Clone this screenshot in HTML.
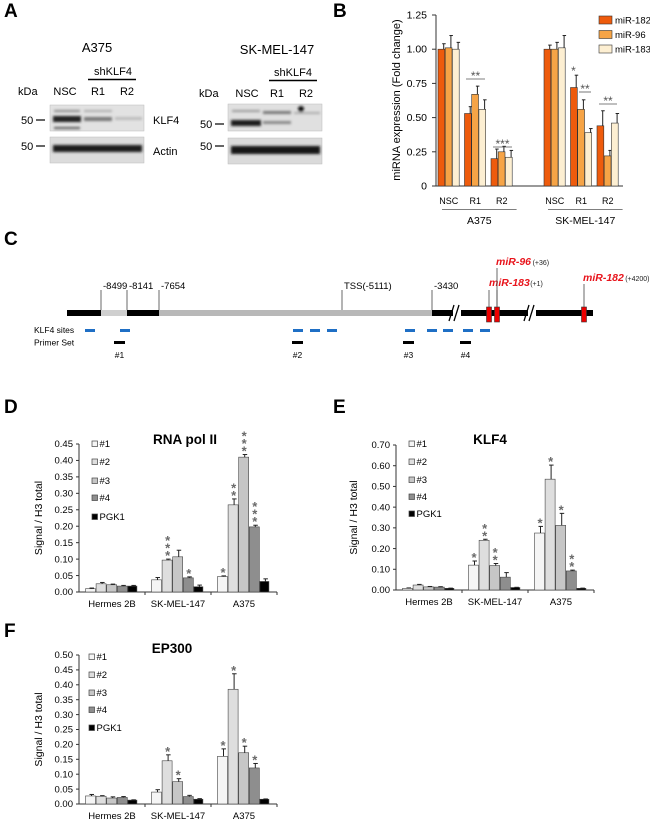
<!DOCTYPE html>
<html><head><meta charset="utf-8">
<style>
html,body{margin:0;padding:0;background:#fff;}
svg{display:block;font-family:"Liberation Sans",Arial,sans-serif;}
</style></head>
<body>
<svg id="fig" width="650" height="821" viewBox="0 0 650 821" xmlns="http://www.w3.org/2000/svg">
<defs>
<filter id="blur1" x="-20%" y="-50%" width="140%" height="200%"><feGaussianBlur stdDeviation="1.3"/></filter>
</defs>
<g font-weight="bold" font-size="19" fill="#000">
<text x="4" y="17">A</text>
<text x="333" y="17">B</text>
<text x="4" y="245">C</text>
<text x="4" y="413">D</text>
<text x="333" y="413">E</text>
<text x="4" y="637">F</text>
</g>

<g id="panelA" font-size="11" fill="#000">
<text x="97" y="52" text-anchor="middle" font-size="13">A375</text>
<text x="113" y="75" text-anchor="middle">shKLF4</text>
<line x1="88" y1="79.5" x2="136" y2="79.5" stroke="#000" stroke-width="1.5"/>
<text x="18" y="95">kDa</text>
<text x="65" y="95" text-anchor="middle">NSC</text>
<text x="98" y="95" text-anchor="middle">R1</text>
<text x="127" y="95" text-anchor="middle">R2</text>
<rect x="50" y="105" width="94" height="26" fill="#e2e2e2" stroke="#bbb" stroke-width="0.5"/>
<rect x="50" y="137" width="94" height="26" fill="#dcdcdc" stroke="#bbb" stroke-width="0.5"/>
<g filter="url(#blur1)">
<rect x="53" y="116" width="28" height="6" fill="#222"/>
<rect x="54" y="110" width="26" height="2" fill="#888"/>
<rect x="54" y="127" width="26" height="2" fill="#555"/>
<rect x="84" y="117" width="28" height="4" fill="#777"/>
<rect x="84" y="110" width="28" height="2" fill="#aaa"/>
<rect x="115" y="117" width="27" height="3" fill="#bbb"/>
<rect x="53" y="145" width="89" height="7" fill="#1a1a1a"/>
</g>
<text x="21" y="124">50</text><line x1="36" y1="120" x2="45" y2="120" stroke="#000" stroke-width="1.2"/>
<text x="21" y="150">50</text><line x1="36" y1="146" x2="45" y2="146" stroke="#000" stroke-width="1.2"/>
<text x="153" y="124">KLF4</text>
<text x="153" y="155">Actin</text>

<text x="277" y="54" text-anchor="middle" font-size="13">SK-MEL-147</text>
<text x="293" y="76" text-anchor="middle">shKLF4</text>
<line x1="269" y1="80.5" x2="317" y2="80.5" stroke="#000" stroke-width="1.5"/>
<text x="199" y="97">kDa</text>
<text x="247" y="97" text-anchor="middle">NSC</text>
<text x="277" y="97" text-anchor="middle">R1</text>
<text x="306" y="97" text-anchor="middle">R2</text>
<rect x="228" y="104" width="94" height="27" fill="#e0e0e0" stroke="#bbb" stroke-width="0.5"/>
<rect x="228" y="138" width="94" height="26" fill="#dadada" stroke="#bbb" stroke-width="0.5"/>
<g filter="url(#blur1)">
<rect x="231" y="120" width="30" height="6" fill="#1e1e1e"/>
<rect x="232" y="110" width="28" height="2" fill="#999"/>
<rect x="263" y="121" width="28" height="3" fill="#888"/>
<rect x="263" y="111" width="28" height="3" fill="#777"/>
<rect x="294" y="112" width="26" height="2" fill="#aaa"/>
<circle cx="301" cy="109" r="3" fill="#111"/>
<rect x="231" y="146" width="89" height="8" fill="#181818"/>
</g>
<text x="200" y="128">50</text><line x1="215" y1="124" x2="224" y2="124" stroke="#000" stroke-width="1.2"/>
<text x="200" y="150">50</text><line x1="215" y1="146" x2="224" y2="146" stroke="#000" stroke-width="1.2"/>
</g>

<g id="panelB"></g>
<g id="panelC"></g>
<g id="panelD"></g>
<g id="panelE"></g>
<g id="panelF"></g>
</svg>
<script>
// ---------- Panel B data ----------
var bCellLines = ["A375", "SK-MEL-147"];
var bConditions = ["NSC", "R1", "R2"];
var bSeriesNames = ["miR-182", "miR-96", "miR-183"];
var bTicks = ["0", "0.25", "0.50", "0.75", "1.00", "1.25"];
var bTickValues = [0, 0.25, 0.5, 0.75, 1.0, 1.25];
var bMiR182 = [1.00, 0.53, 0.20, 1.00, 0.72, 0.44];
var bMiR96  = [1.01, 0.67, 0.25, 1.00, 0.56, 0.22];
var bMiR183 = [1.00, 0.56, 0.21, 1.01, 0.39, 0.46];
var bErr182 = [0.04, 0.05, 0.07, 0.03, 0.09, 0.11];
var bErr96  = [0.09, 0.06, 0.04, 0.05, 0.07, 0.04];
var bErr183 = [0.05, 0.07, 0.05, 0.09, 0.03, 0.07];

// ---------- Panel D data (RNA pol II) ----------
var chipGroups = ["Hermes 2B", "SK-MEL-147", "A375"];
var chipSeries = ["#1", "#2", "#3", "#4", "PGK1"];
var dTicks = ["0.00","0.05","0.10","0.15","0.20","0.25","0.30","0.35","0.40","0.45"];
var dHermes = [0.010, 0.025, 0.022, 0.018, 0.018];
var dSkmel  = [0.037, 0.097, 0.107, 0.043, 0.016];
var dA375   = [0.047, 0.265, 0.410, 0.198, 0.032];
var dErrHermes = [0.002, 0.004, 0.002, 0.002, 0.002];
var dErrSkmel  = [0.007, 0.003, 0.020, 0.003, 0.005];
var dErrA375   = [0.002, 0.018, 0.008, 0.005, 0.008];
var dStarsHermes = [0,0,0,0,0];
var dStarsSkmel  = [0,3,0,1,0];
var dStarsA375   = [1,2,3,3,0];

// ---------- Panel E data (KLF4) ----------
var eTicks = ["0.00","0.10","0.20","0.30","0.40","0.50","0.60","0.70"];
var eHermes = [0.008, 0.024, 0.015, 0.014, 0.008];
var eSkmel  = [0.120, 0.240, 0.118, 0.062, 0.012];
var eA375   = [0.275, 0.535, 0.312, 0.092, 0.008];
var eErrHermes = [0.002, 0.003, 0.002, 0.002, 0.001];
var eErrSkmel  = [0.020, 0.005, 0.010, 0.022, 0.001];
var eErrA375   = [0.032, 0.068, 0.058, 0.004, 0.001];
var eStarsHermes = [0,0,0,0,0];
var eStarsSkmel  = [1,2,2,0,0];
var eStarsA375   = [1,1,1,2,0];

// ---------- Panel F data (EP300) ----------
var fTicks = ["0.00","0.05","0.10","0.15","0.20","0.25","0.30","0.35","0.40","0.45","0.50"];
var fHermes = [0.027, 0.026, 0.020, 0.022, 0.013];
var fSkmel  = [0.040, 0.145, 0.075, 0.025, 0.016];
var fA375   = [0.160, 0.385, 0.172, 0.121, 0.016];
var fErrHermes = [0.005, 0.002, 0.004, 0.003, 0.001];
var fErrSkmel  = [0.008, 0.020, 0.010, 0.004, 0.002];
var fErrA375   = [0.025, 0.052, 0.022, 0.015, 0.001];
var fStarsHermes = [0,0,0,0,0];
var fStarsSkmel  = [0,1,1,0,0];
var fStarsA375   = [1,1,1,1,0];

var NS = "http://www.w3.org/2000/svg";
function mk(parent, tag, attrs, txt) {
  var e = document.createElementNS(NS, tag);
  for (var k in attrs) e.setAttribute(k, attrs[k]);
  if (txt !== undefined) e.textContent = txt;
  parent.appendChild(e);
  return e;
}

// ---------- Panel B ----------
(function(){
  var g = document.getElementById("panelB");
  var ax = 436, y0 = 186, yTopPx = 15, vmax = 1.25;
  function yb(v){ return y0 - v / vmax * (y0 - yTopPx); }
  var colors = ["#EE5B0C", "#F6A446", "#FDEFD2"];
  var vals = [bMiR182, bMiR96, bMiR183];
  var errs = [bErr182, bErr96, bErr183];
  var groupBase = [438, 544];
  var step = 26.5, bw = 7.2;
  var a = mk(g, "line", {x1:ax, y1:yTopPx, x2:ax, y2:y0, stroke:"#333", "stroke-width":1});
  
  
  var xa = mk(g, "line", {x1:432, y1:y0, x2:623, y2:y0, stroke:"#333", "stroke-width":1});
  
  
  for (var t = 0; t < bTickValues.length; t++) {
    var ty = yb(bTickValues[t]);
    mk(g, "line", {x1:ax-4, y1:ty, x2:ax, y2:ty, stroke:"#333", "stroke-width":1});
    var tl = mk(g, "text", {x:ax-9, y:ty+3.5, "text-anchor":"end", "font-size":10.5}, bTicks[t]);
    
    
  }
  var yt = mk(g, "text", {x:0, y:0, "font-size":11, "text-anchor":"middle", transform:"translate(400,100) rotate(-90)"}, "miRNA expression (Fold change)");
  
  
  for (var gi = 0; gi < bCellLines.length; gi++) {
    for (var ci = 0; ci < bConditions.length; ci++) {
      var idx = gi * 3 + ci;
      var gx = groupBase[gi] + ci * step;
      for (var s = 0; s < 3; s++) {
        var x = gx + s * bw, v = vals[s][idx], top = yb(v);
        var r = mk(g, "rect", {x:x, y:top, width:bw-0.4, height:y0-top, fill:colors[s], stroke:"#333", "stroke-width":0.6});
        
        
        var et = yb(v + errs[s][idx]), cx = x + bw - 1.5;
        mk(g, "line", {x1:cx, y1:top, x2:cx, y2:et, stroke:"#222", "stroke-width":1});
        mk(g, "line", {x1:cx-1.5, y1:et, x2:cx+2, y2:et, stroke:"#222", "stroke-width":1});
      }
      var cl = mk(g, "text", {x:gx + 1.5*bw, y:204, "text-anchor":"middle", "font-size":9}, bConditions[ci]);
      
      
    }
    var lx0 = groupBase[gi] + 4, lx1 = groupBase[gi] + 2*step + 3*bw + 4;
    mk(g, "line", {x1:lx0, y1:209.5, x2:lx1, y2:209.5, stroke:"#555", "stroke-width":0.8});
    var gl = mk(g, "text", {x:(lx0+lx1)/2, y:224, "text-anchor":"middle", "font-size":10.5}, bCellLines[gi]);
    
    
  }
  var sig = [[466,485,79,"**"],[493,512,147,"***"],[579,591,92,"**"],[599,617,104,"**"]];
  for (var i = 0; i < sig.length; i++) {
    mk(g, "line", {x1:sig[i][0], y1:sig[i][2], x2:sig[i][1], y2:sig[i][2], stroke:"#555", "stroke-width":0.8});
    mk(g, "text", {x:(sig[i][0]+sig[i][1])/2, y:sig[i][2]+1, "text-anchor":"middle", "font-size":12, fill:"#555"}, sig[i][3]);
  }
  mk(g, "text", {x:groupBase[1] + step + 3, y:75, "text-anchor":"middle", "font-size":12, fill:"#555"}, "*");
  for (var s2 = 0; s2 < 3; s2++) {
    var ly = 20 + s2 * 14.5;
    var sw = mk(g, "rect", {x:599, y:ly-4, width:13, height:8, fill:colors[s2], stroke:"#333", "stroke-width":0.6});
    
    
    var lt = mk(g, "text", {x:615, y:ly+3.5, "font-size":9.5}, bSeriesNames[s2]);
    
    
  }
})();

// ---------- Panel C ----------
(function(){
  var g = document.getElementById("panelC");
  var ly = 313;
  var segs = [[67,101,"#000"],[101,127,"#cfcfcf"],[127,159,"#000"],[159,432,"#b8b8b8"],[432,593,"#000"]];
  for (var i = 0; i < segs.length; i++) {
    var r = mk(g, "rect", {x:segs[i][0], y:ly-3, width:segs[i][1]-segs[i][0], height:6, fill:segs[i][2]});
    
    
  }
  var ticks = [[101,"-8499"],[127,"-8141"],[159,"-7654"],[342,"TSS(-5111)"],[432,"-3430"]];
  for (var t = 0; t < ticks.length; t++) {
    mk(g, "line", {x1:ticks[t][0], y1:290, x2:ticks[t][0], y2:ly-3, stroke:"#444", "stroke-width":0.8});
    var tl = mk(g, "text", {x:ticks[t][0]+2, y:289, "font-size":9.5}, ticks[t][1]);
    
    
  }
  [455, 530].forEach(function(bx){
    mk(g, "rect", {x:bx-6, y:ly-8, width:12, height:16, fill:"#fff"});
    mk(g, "line", {x1:bx-6, y1:ly+8, x2:bx-1, y2:ly-8, stroke:"#000", "stroke-width":1.3});
    mk(g, "line", {x1:bx-1, y1:ly+8, x2:bx+4, y2:ly-8, stroke:"#000", "stroke-width":1.3});
  });
  mk(g, "rect", {x:449, y:ly-3, width:4, height:6, fill:"#000"});
  mk(g, "rect", {x:524, y:ly-3, width:4, height:6, fill:"#000"});
  var mirs = [[489,"miR-183","(+1)",286,290],[497,"miR-96","(+36)",265,268],[584,"miR-182","(+4200)",281,284]];
  for (var m = 0; m < mirs.length; m++) {
    var mx = mirs[m][0];
    var rr = mk(g, "rect", {x:mx-2.5, y:307, width:5, height:15, fill:"#e00", stroke:"#333", "stroke-width":0.6});
    
    
    mk(g, "line", {x1:mx, y1:mirs[m][4], x2:mx, y2:307, stroke:"#444", "stroke-width":0.8});
    var tt = mk(g, "text", {x:mx - (m==0?0:1), y:mirs[m][3], "font-size":10.5, "font-weight":"bold", "font-style":"italic", fill:"#e8141c"}, mirs[m][1]);
    
    
    var w = mirs[m][1].length * 5.6 + 2;
    mk(g, "text", {x:mx + w, y:mirs[m][3], "font-size":7, fill:"#222"}, mirs[m][2]);
  }
  mk(g, "line", {x1:497, y1:290, x2:497, y2:307, stroke:"#444", "stroke-width":0.8});
  var kl = mk(g, "text", {x:34, y:333, "font-size":8.5}, "KLF4 sites");
  
  
  var pl = mk(g, "text", {x:34, y:345.5, "font-size":8.5}, "Primer Set");
  
  
  var sites = [85,120,293,310,327,405,427,443,463,480];
  for (var s = 0; s < sites.length; s++) {
    var sr = mk(g, "rect", {x:sites[s], y:329, width:10, height:3, fill:"#1f6fc5"});
    
    
  }
  var primers = [[114,"#1"],[292,"#2"],[403,"#3"],[460,"#4"]];
  for (var p = 0; p < primers.length; p++) {
    var pr = mk(g, "rect", {x:primers[p][0], y:341, width:11, height:3, fill:"#000"});
    
    
    var pt = mk(g, "text", {x:primers[p][0]+5.5, y:358, "font-size":8.5, "text-anchor":"middle"}, primers[p][1]);
    
    
  }
})();

// ---------- ChIP bar charts ----------
var chipFills = ["#f5f5f5", "#dedede", "#c6c6c6", "#8e8e8e", "#000"];
function chipChart(gid, cfg) {
  var g = document.getElementById(gid);
  var ax = cfg.ax, y0 = cfg.y0, ytop = cfg.ytop, vmax = cfg.vmax;
  function yv(v){ return y0 - v / vmax * (y0 - ytop); }
  var gw = 66;
  var a = mk(g, "line", {x1:ax, y1:ytop, x2:ax, y2:y0, stroke:"#333", "stroke-width":1});
  
  
  var xa = mk(g, "line", {x1:ax-3, y1:y0, x2:ax+3*gw, y2:y0, stroke:"#333", "stroke-width":1});
  
  
  for (var t = 0; t < cfg.ticks.length; t++) {
    var v = parseFloat(cfg.ticks[t]), ty = yv(v);
    mk(g, "line", {x1:ax-3, y1:ty, x2:ax, y2:ty, stroke:"#333", "stroke-width":1});
    var tl = mk(g, "text", {x:ax-6, y:ty+3.2, "text-anchor":"end", "font-size":9.5}, cfg.ticks[t]);
    
    
  }
  for (var k = 1; k <= 3; k++) mk(g, "line", {x1:ax+k*gw, y1:y0, x2:ax+k*gw, y2:y0+3, stroke:"#333", "stroke-width":1});
  var ytitle = mk(g, "text", {x:0, y:0, "font-size":10.5, "text-anchor":"middle", transform:"translate(" + cfg.titleX + "," + ((y0+ytop)/2) + ") rotate(-90)"}, "Signal / H3 total");
  
  
  var title = mk(g, "text", {x:cfg.chartTitleX, y:cfg.chartTitleY, "font-size":13.5, "font-weight":"bold", "text-anchor":"middle"}, cfg.title);
  
  
  for (var gi = 0; gi < 3; gi++) {
    var gx = ax + gi * gw + 6.5;
    for (var s = 0; s < 5; s++) {
      var val = cfg.vals[gi][s], top = yv(val), x = gx + s * 10.6, bw = (s == 4 ? 9 : 10);
      var r = mk(g, "rect", {x:x, y:top, width:bw, height:y0-top, fill:chipFills[s], stroke:"#444", "stroke-width":0.6});
      
      
      var et = yv(val + cfg.errs[gi][s]), cx = x + bw/2 + 1;
      mk(g, "line", {x1:cx, y1:top, x2:cx, y2:et, stroke:"#222", "stroke-width":1});
      mk(g, "line", {x1:cx-2, y1:et, x2:cx+2.5, y2:et, stroke:"#222", "stroke-width":1});
      var ns = cfg.stars[gi][s];
      for (var st = 0; st < ns; st++) {
        mk(g, "text", {x:cx-0.5, y:et + 1 - st*7.5, "text-anchor":"middle", "font-size":13, "font-weight":"bold", fill:"#6a6a6a"}, "*");
      }
    }
    var gl = mk(g, "text", {x:ax + gi*gw + gw/2, y:cfg.labelY, "text-anchor":"middle", "font-size":9.5}, chipGroups[gi]);
    
    
  }
  for (var li = 0; li < 5; li++) {
    var ly = cfg.legY[li];
    var sw = mk(g, "rect", {x:cfg.legX, y:ly-3, width:5.5, height:5.5, fill:chipFills[li], stroke:"#444", "stroke-width":0.7});
    
    
    var lt = mk(g, "text", {x:cfg.legX + 7.5, y:ly+3.2, "font-size":9.5}, chipSeries[li]);
    
    
  }
}
chipChart("panelD", {prefix:"d", ax:79, y0:592, ytop:444, vmax:0.45, ticks:dTicks,
  vals:[dHermes, dSkmel, dA375], errs:[dErrHermes, dErrSkmel, dErrA375], stars:[dStarsHermes, dStarsSkmel, dStarsA375],
  title:"RNA pol II", chartTitleX:185, chartTitleY:444, titleX:42, labelY:607, legX:92, legY:[444,462,481,498,517]});
chipChart("panelE", {prefix:"e", ax:396, y0:590, ytop:445, vmax:0.70, ticks:eTicks,
  vals:[eHermes, eSkmel, eA375], errs:[eErrHermes, eErrSkmel, eErrA375], stars:[eStarsHermes, eStarsSkmel, eStarsA375],
  title:"KLF4", chartTitleX:490, chartTitleY:444, titleX:357, labelY:605, legX:409, legY:[444,462,480,497,514]});
chipChart("panelF", {prefix:"f", ax:79, y0:804, ytop:655, vmax:0.50, ticks:fTicks,
  vals:[fHermes, fSkmel, fA375], errs:[fErrHermes, fErrSkmel, fErrA375], stars:[fStarsHermes, fStarsSkmel, fStarsA375],
  title:"EP300", chartTitleX:172, chartTitleY:653, titleX:42, labelY:819, legX:89, legY:[657,675,693,710,728]});
</script>
</body></html>
